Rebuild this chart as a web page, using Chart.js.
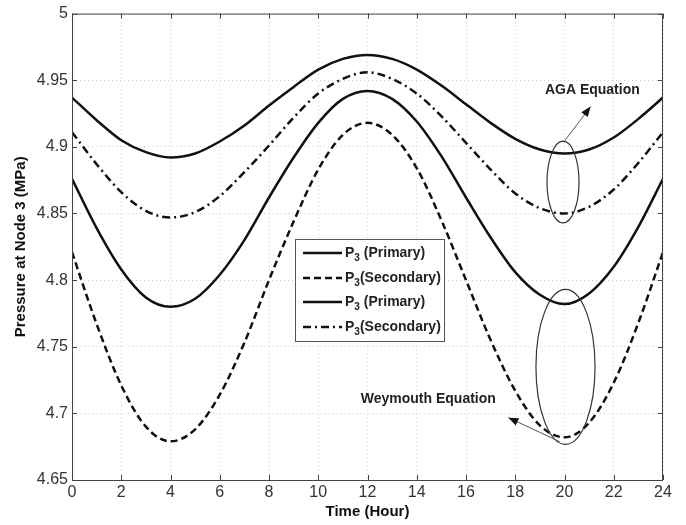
<!DOCTYPE html>
<html>
<head>
<meta charset="utf-8">
<script src="https://cdn.jsdelivr.net/npm/chart.js@4"></script>
<style>
  html, body { margin: 0; padding: 0; background: #fff; }
  #wrap { width: 686px; height: 525px; }
</style>
</head>
<body>
<div id="wrap"><canvas id="pressure-chart" width="686" height="525"></canvas></div>
<script>
// hours of the day
const hours = [0,1,2,3,4,5,6,7,8,9,10,11,12,13,14,15,16,17,18,19,20,21,22,23,24];

// AGA equation
const agaPrimary = [4.937,4.920,4.905,4.896,4.892,4.895,4.904,4.916,4.931,4.945,4.958,4.966,4.969,
  4.966,4.958,4.946,4.932,4.918,4.906,4.898,4.895,4.898,4.907,4.921,4.937];
const agaSecondary = [4.911,4.887,4.866,4.852,4.847,4.851,4.863,4.881,4.901,4.922,4.940,4.951,4.956,
  4.951,4.940,4.923,4.903,4.883,4.865,4.854,4.850,4.855,4.868,4.888,4.911];

// Weymouth equation
const weyPrimary = [4.876,4.839,4.808,4.787,4.780,4.786,4.804,4.830,4.862,4.892,4.918,4.936,4.942,
  4.936,4.919,4.893,4.862,4.832,4.806,4.789,4.782,4.790,4.810,4.840,4.876];
const weySecondary = [4.821,4.767,4.721,4.690,4.679,4.688,4.714,4.753,4.800,4.844,4.883,4.909,4.918,
  4.909,4.884,4.845,4.800,4.755,4.717,4.691,4.682,4.693,4.723,4.768,4.821];

const legendLabels = ['(Primary)', '(Secondary)', '(Primary)', '(Secondary)'];

function pts(vals) {
  return hours.map((h, i) => ({x: h, y: vals[i]}));
}

const SOLID = [];
const DASHED = [7, 4];
const DASHDOT = [8, 4, 2, 4];

const lineStyle = {
  borderColor: '#111',
  borderWidth: 2.5,
  pointRadius: 0,
  fill: false,
  cubicInterpolationMode: 'monotone'
};

// order as in the legend
const series = [
  {label: 'P3 (Primary)', data: pts(agaPrimary), borderDash: SOLID},
  {label: 'P3(Secondary)', data: pts(weySecondary), borderDash: DASHED},
  {label: 'P3 (Primary)', data: pts(weyPrimary), borderDash: SOLID},
  {label: 'P3(Secondary)', data: pts(agaSecondary), borderDash: DASHDOT}
].map(s => Object.assign({}, lineStyle, s));

// ellipses, arrows and notes drawn in data units
function drawArrow(ctx, x1, y1, x2, y2) {
  ctx.strokeStyle = '#555';
  ctx.lineWidth = 1;
  ctx.beginPath();
  ctx.moveTo(x1, y1);
  ctx.lineTo(x2, y2);
  ctx.stroke();
  const a = Math.atan2(y2 - y1, x2 - x1);
  const len = 10, w = 4;
  ctx.fillStyle = '#111';
  ctx.beginPath();
  ctx.moveTo(x2, y2);
  ctx.lineTo(x2 - len * Math.cos(a) + w * Math.sin(a), y2 - len * Math.sin(a) - w * Math.cos(a));
  ctx.lineTo(x2 - len * Math.cos(a) - w * Math.sin(a), y2 - len * Math.sin(a) + w * Math.cos(a));
  ctx.closePath();
  ctx.fill();
}

const matlabFrame = {
  id: 'matlabFrame',
  afterDraw(chart) {
    const ctx = chart.ctx;
    const area = chart.chartArea;
    const xs = chart.scales.x, ys = chart.scales.y;
    ctx.save();

    // box
    ctx.strokeStyle = '#444';
    ctx.lineWidth = 1;
    ctx.setLineDash([]);
    ctx.strokeRect(area.left + 0.5, area.top + 0.5, area.right - area.left - 1, area.bottom - area.top);

    // inward ticks
    ctx.beginPath();
    xs.ticks.forEach(t => {
      const px = Math.round(xs.getPixelForValue(t.value)) + 0.5;
      ctx.moveTo(px, area.bottom); ctx.lineTo(px, area.bottom - 5);
      ctx.moveTo(px, area.top); ctx.lineTo(px, area.top + 5);
    });
    ys.ticks.forEach(t => {
      const py = Math.round(ys.getPixelForValue(t.value)) + 0.5;
      ctx.moveTo(area.left, py); ctx.lineTo(area.left + 5, py);
      ctx.moveTo(area.right, py); ctx.lineTo(area.right - 5, py);
    });
    ctx.stroke();

    // legend
    const lx = 295, ly = 239, lw = 149, lh = 102;
    ctx.fillStyle = '#fff';
    ctx.fillRect(lx, ly, lw, lh);
    ctx.strokeStyle = '#555';
    ctx.strokeRect(lx + 0.5, ly + 0.5, lw, lh);
    const rows = [253, 278, 302, 327];
    chart.data.datasets.forEach((ds, i) => {
      const y = rows[i];
      ctx.strokeStyle = '#111';
      ctx.lineWidth = 2.5;
      ctx.setLineDash(ds.borderDash);
      ctx.beginPath();
      ctx.moveTo(303, y); ctx.lineTo(342, y);
      ctx.stroke();
      ctx.setLineDash([]);
      ctx.fillStyle = '#222';
      ctx.textBaseline = 'middle';
      ctx.textAlign = 'left';
      ctx.font = 'bold 14px "Liberation Sans", Arial, sans-serif';
      let x = 345;
      ctx.fillText('P', x, y);
      x += ctx.measureText('P').width;
      ctx.font = 'bold 10px "Liberation Sans", Arial, sans-serif';
      ctx.fillText('3', x, y + 5);
      x += ctx.measureText('3').width;
      ctx.font = 'bold 14px "Liberation Sans", Arial, sans-serif';
      const sec = legendLabels[i] === '(Secondary)';
      ctx.fillText((sec ? '' : ' ') + legendLabels[i], x, y);
    });

    // ellipses
    ctx.strokeStyle = '#333';
    ctx.lineWidth = 1.2;
    const ell = (cx, cy, rx, ry) => {
      const px = xs.getPixelForValue(cx), py = ys.getPixelForValue(cy);
      const rpx = Math.abs(xs.getPixelForValue(cx + rx) - px);
      const rpy = Math.abs(ys.getPixelForValue(cy + ry) - py);
      ctx.beginPath();
      ctx.ellipse(px, py, rpx, rpy, 0, 0, Math.PI * 2);
      ctx.stroke();
    };
    ell(19.94, 4.8736, 0.65, 0.0307);
    ell(20.04, 4.7349, 1.2, 0.0581);

    // arrows
    drawArrow(ctx, xs.getPixelForValue(20.0), ys.getPixelForValue(4.9044),
      xs.getPixelForValue(21.06), ys.getPixelForValue(4.9302));
    drawArrow(ctx, xs.getPixelForValue(19.8), ys.getPixelForValue(4.6788),
      xs.getPixelForValue(17.72), ys.getPixelForValue(4.6968));

    // notes
    ctx.fillStyle = '#222';
    ctx.font = 'bold 14px "Liberation Sans", Arial, sans-serif';
    ctx.textAlign = 'center';
    ctx.textBaseline = 'middle';
    ctx.fillText('AGA Equation', xs.getPixelForValue(21.13), ys.getPixelForValue(4.9425));
    ctx.fillText('Weymouth Equation', xs.getPixelForValue(14.47), ys.getPixelForValue(4.7105));

    ctx.restore();
  }
};

const tickFont = {family: '"Liberation Sans", Arial, sans-serif', size: 16};
const titleFont = {family: '"Liberation Sans", Arial, sans-serif', size: 15, weight: 'bold'};

const config = {
  type: 'line',
  data: {datasets: series},
  options: {
    responsive: false,
    animation: false,
    layout: {padding: {left: 0, right: 23, top: 13, bottom: 0}},
    plugins: {
      legend: {display: false},
      tooltip: {enabled: false}
    },
    scales: {
      x: {
        type: 'linear',
        min: 0,
        max: 24,
        ticks: {stepSize: 2, color: '#333', font: tickFont, padding: 3, maxRotation: 0},
        grid: {color: '#cfcfcf', drawTicks: false},
        border: {display: false, dash: [1, 3]},
        title: {display: true, text: 'Time (Hour)', color: '#111', font: titleFont, padding: {top: 4, bottom: 4}},
        afterFit: s => { s.height = 45; }
      },
      y: {
        min: 4.65,
        max: 5,
        ticks: {
          stepSize: 0.05,
          color: '#333',
          font: tickFont,
          padding: 4,
          callback: v => String(parseFloat(v.toFixed(2)))
        },
        grid: {color: '#cfcfcf', drawTicks: false},
        border: {display: false, dash: [1, 3]},
        title: {display: true, text: 'Pressure at Node 3 (MPa)', color: '#111', font: titleFont, padding: {top: 12, bottom: 0}},
        afterFit: s => { s.width = 72; }
      }
    }
  },
  plugins: [matlabFrame]
};

new Chart(document.getElementById('pressure-chart'), config);
</script>
</body>
</html>
